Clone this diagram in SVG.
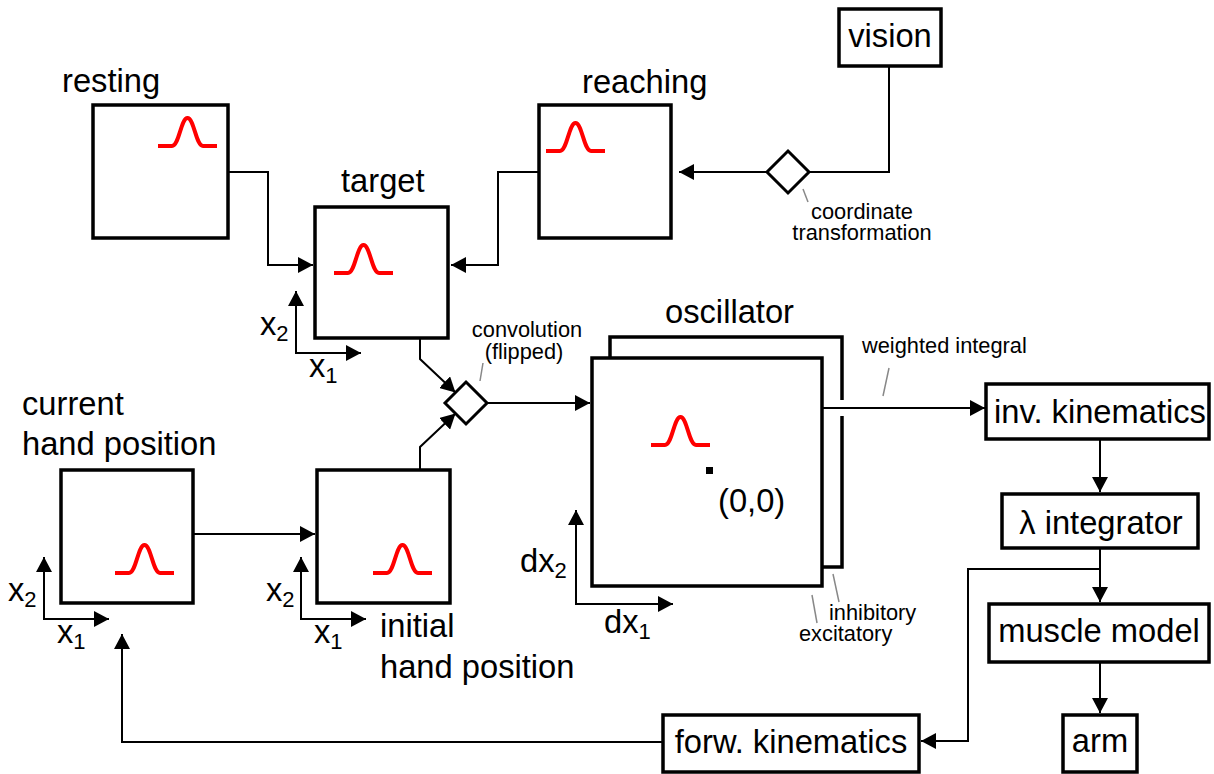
<svg xmlns="http://www.w3.org/2000/svg" xmlns:xlink="http://www.w3.org/1999/xlink" width="1214" height="774" viewBox="0 0 1214 774">
<style>
.box{fill:#fff;stroke:#000;stroke-width:3.5}
.dia{fill:#fff;stroke:#000;stroke-width:3}
.t{font-family:"Liberation Sans",Arial,Helvetica,sans-serif;font-size:32.7px;fill:#000}
.s{font-family:"Liberation Sans",Arial,Helvetica,sans-serif;font-size:21.8px;fill:#000}
.sub{font-size:22px}
.c{fill:none;stroke:#000;stroke-width:2}
.lead{fill:none;stroke:#888;stroke-width:1.5}
.g{fill:none;stroke:#f00;stroke-width:4}
</style>
<defs>
<marker id="ah" viewBox="0 0 15 16" refX="15" refY="8" markerWidth="15" markerHeight="16" markerUnits="userSpaceOnUse" orient="auto-start-reverse"><path d="M0,0 L15,8 L0,16 z" fill="#000"/></marker>
<path id="gauss" class="g" d="M0,0 H14 C21,0 23,-28 29.5,-28 C36,-28 38,0 45,0 H59"/>
</defs>
<rect width="1214" height="774" fill="#fff"/>

<g id="connectors">
<path class="c" d="M228,172 H268 V265 H313" marker-end="url(#ah)"/>
<path class="c" d="M539,172 H498 V265 H451" marker-end="url(#ah)"/>
<path class="c" d="M889,66 V172 H809"/>
<path class="c" d="M767,172 H679" marker-end="url(#ah)"/>
<path class="c" d="M420,339 V359 L455.5,392.5" marker-end="url(#ah)"/>
<path class="c" d="M420,470 V447 L455.5,413.5" marker-end="url(#ah)"/>
<path class="c" d="M487,403 H590" marker-end="url(#ah)"/>
<path class="c" d="M193,534 H315" marker-end="url(#ah)"/>
<path class="c" d="M1100,439 V492" marker-end="url(#ah)"/>
<path class="c" d="M1100,548 V602" marker-end="url(#ah)"/>
<path class="c" d="M1100,569 H968 V741 H921" marker-end="url(#ah)"/>
<path class="c" d="M1100,662 V713" marker-end="url(#ah)"/>
<path class="c" d="M663,742 H122 V634" marker-end="url(#ah)"/>
</g>

<g id="resting">
<text class="t" x="62" y="92">resting</text>
<rect class="box" x="93" y="105" width="135" height="133"/>
<use xlink:href="#gauss" x="158" y="146"/>
</g>

<g id="target">
<text class="t" x="341" y="192">target</text>
<rect class="box" x="315" y="207" width="133" height="131"/>
<use xlink:href="#gauss" x="334" y="273"/>
<path class="c" d="M296,291 V353 H361" marker-start="url(#ah)" marker-end="url(#ah)"/>
<text class="t" x="260" y="335">x<tspan class="sub" dy="6">2</tspan></text>
<text class="t" x="309" y="377">x<tspan class="sub" dy="6">1</tspan></text>
</g>

<g id="reaching">
<text class="t" x="582" y="93">reaching</text>
<rect class="box" x="539" y="105" width="132" height="133"/>
<use xlink:href="#gauss" x="546" y="151"/>
</g>

<g id="vision">
<rect class="box" x="839" y="9" width="102" height="57"/>
<text class="t" x="890" y="47" text-anchor="middle">vision</text>
</g>

<g id="coordinate-transformation">
<polygon class="dia" points="788,151 809,172 788,193 767,172"/>
<line class="lead" x1="803" y1="189" x2="808" y2="202"/>
<text class="s" x="862" y="219" text-anchor="middle">coordinate</text>
<text class="s" x="862" y="240" text-anchor="middle">transformation</text>
</g>

<g id="convolution">
<polygon class="dia" points="466,382 487,403 466,424 445,403"/>
<line class="lead" x1="483" y1="363" x2="480" y2="381"/>
<text class="s" x="527" y="337" text-anchor="middle">convolution</text>
<text class="s" x="524" y="359" text-anchor="middle">(flipped)</text>
</g>

<g id="current-hand-position">
<text class="t" x="22" y="415">current</text>
<text class="t" x="22" y="455">hand position</text>
<rect class="box" x="61" y="470" width="132" height="133"/>
<use xlink:href="#gauss" x="115" y="573"/>
<path class="c" d="M44,557 V619 H109" marker-start="url(#ah)" marker-end="url(#ah)"/>
<text class="t" x="8" y="601">x<tspan class="sub" dy="6">2</tspan></text>
<text class="t" x="57" y="643">x<tspan class="sub" dy="6">1</tspan></text>
</g>

<g id="initial-hand-position">
<rect class="box" x="317" y="470" width="133" height="133"/>
<use xlink:href="#gauss" x="373" y="573"/>
<path class="c" d="M301,557 V619 H366" marker-start="url(#ah)" marker-end="url(#ah)"/>
<text class="t" x="266" y="601">x<tspan class="sub" dy="6">2</tspan></text>
<text class="t" x="314" y="643">x<tspan class="sub" dy="6">1</tspan></text>
<text class="t" x="380" y="637">initial</text>
<text class="t" x="380" y="678">hand position</text>
</g>

<g id="oscillator">
<text class="t" x="665" y="323">oscillator</text>
<rect class="box" x="610" y="337" width="232" height="230"/>
<rect class="box" x="592" y="358" width="230" height="228"/>
<rect x="836" y="400" width="12" height="16" fill="#fff"/>
<path class="c" d="M822,408 H985" marker-end="url(#ah)"/>
<use xlink:href="#gauss" x="651" y="445"/>
<rect x="706" y="467" width="7" height="7" fill="#000"/>
<text class="t" x="718" y="512">(0,0)</text>
<path class="c" d="M576,510 V604 H673" marker-start="url(#ah)" marker-end="url(#ah)"/>
<text class="t" x="520" y="572">dx<tspan class="sub" dy="6">2</tspan></text>
<text class="t" x="604" y="633">dx<tspan class="sub" dy="6">1</tspan></text>
<line class="lead" x1="889" y1="368" x2="883" y2="396"/>
<text class="s" x="862" y="353">weighted integral</text>
<line class="lead" x1="833" y1="574" x2="839" y2="602"/>
<text class="s" x="829" y="620">inhibitory</text>
<line class="lead" x1="812" y1="595" x2="817" y2="623"/>
<text class="s" x="799" y="641">excitatory</text>
</g>

<g id="inv-kinematics">
<rect class="box" x="986" y="384" width="223" height="55"/>
<text class="t" x="1100" y="423" text-anchor="middle">inv. kinematics</text>
</g>

<g id="lambda-integrator">
<rect class="box" x="1002" y="494" width="196" height="54"/>
<text class="t" x="1101" y="534" text-anchor="middle">λ integrator</text>
</g>

<g id="muscle-model">
<rect class="box" x="989" y="604" width="220" height="58"/>
<text class="t" x="1099" y="642" text-anchor="middle">muscle model</text>
</g>

<g id="arm">
<rect class="box" x="1063" y="715" width="74" height="57"/>
<text class="t" x="1100" y="752" text-anchor="middle">arm</text>
</g>

<g id="forw-kinematics">
<rect class="box" x="663" y="715" width="256" height="57"/>
<text class="t" x="791" y="753" text-anchor="middle">forw. kinematics</text>
</g>
</svg>
